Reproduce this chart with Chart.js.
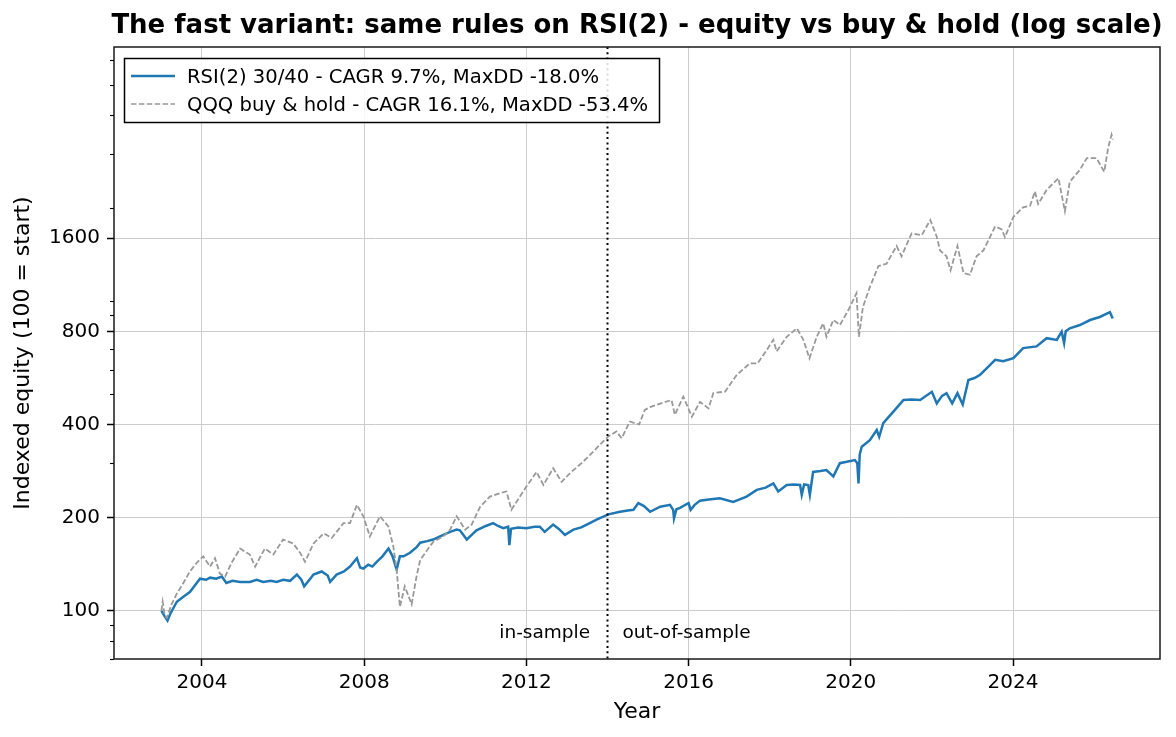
<!DOCTYPE html>
<html><head><meta charset="utf-8">
<script src="https://cdn.jsdelivr.net/npm/chart.js@4.4.1/dist/chart.umd.min.js"></script>
<style>html,body{margin:0;padding:0;background:#fff}canvas{display:block}</style>
</head><body>
<canvas id="c" width="1176" height="737"></canvas>
<script>
const chartTitle = "The fast variant: same rules on RSI(2) - equity vs buy & hold (log scale)";
const seriesLabels = ["RSI(2) 30/40 - CAGR 9.7%, MaxDD -18.0%", "QQQ buy & hold - CAGR 16.1%, MaxDD -53.4%"];
const xAxisTitle = "Year";
const yAxisTitle = "Indexed equity (100 = start)";
const xTicks = [2004, 2008, 2012, 2016, 2020, 2024];
const yTicks = [100, 200, 400, 800, 1600];
const yMinorTicks = [70, 80, 90, 300, 500, 600, 700, 900, 1000, 2000, 3000, 4000, 5000, 6000];
const splitYear = 2014.0;
const splitLabels = ["in-sample", "out-of-sample"];

const rsiYears = [2003.00,2003.08,2003.15,2003.22,2003.38,2003.54,2003.70,2003.87,2003.95,2004.10,2004.20,2004.35,2004.49,2004.60,2004.75,2004.94,2005.18,2005.35,2005.51,2005.70,2005.84,2006.00,2006.17,2006.34,2006.45,2006.52,2006.65,2006.75,2006.95,2007.10,2007.16,2007.32,2007.50,2007.65,2007.82,2007.90,2007.98,2008.10,2008.20,2008.31,2008.45,2008.60,2008.70,2008.80,2008.88,2008.97,2009.13,2009.30,2009.38,2009.55,2009.70,2009.95,2010.12,2010.28,2010.36,2010.53,2010.65,2010.77,2011.00,2011.18,2011.30,2011.43,2011.55,2011.58,2011.62,2011.80,2012.00,2012.20,2012.33,2012.45,2012.66,2012.80,2012.95,2013.16,2013.35,2013.49,2013.73,2014.02,2014.31,2014.50,2014.64,2014.76,2014.90,2015.05,2015.30,2015.54,2015.62,2015.64,2015.70,2015.79,2016.00,2016.05,2016.15,2016.28,2016.50,2016.77,2017.10,2017.43,2017.68,2017.90,2018.09,2018.21,2018.42,2018.60,2018.75,2018.79,2018.85,2018.95,2018.99,2019.07,2019.25,2019.40,2019.57,2019.73,2019.90,2020.10,2020.16,2020.19,2020.22,2020.27,2020.47,2020.64,2020.70,2020.80,2021.05,2021.30,2021.50,2021.71,2022.00,2022.12,2022.25,2022.36,2022.50,2022.63,2022.76,2022.90,2023.05,2023.19,2023.35,2023.56,2023.76,2024.01,2024.25,2024.58,2024.83,2025.08,2025.20,2025.26,2025.30,2025.40,2025.65,2025.90,2026.14,2026.39,2026.46];
const rsiValues = [100,96,93,98,107,111,115,123,127,126,128,127,129,123,125,124,124,126,124,125,124,126,125,131,126,120,126,131,134,130,124,131,134,139,148,138,137,141,139,144,150,159,150,136,150,150,154,161,166,168,170,176,180,183,182,170,176,182,188,192,188,185,187,163,184,186,185,187,187,180,190,184,176,183,186,190,197,205,209,211,212,223,218,209,217,220,212,199,213,215,223,212,220,227,229,231,225,234,246,250,258,243,255,256,255,237,256,255,237,281,283,285,272,300,303,307,300,258,320,339,356,384,365,404,440,480,482,480,510,468,495,505,468,505,464,557,565,579,607,647,640,655,706,715,760,750,798,733,800,818,838,870,890,922,880];

const qqqYears = [2003.00,2003.03,2003.08,2003.13,2003.25,2003.37,2003.54,2003.70,2003.87,2004.03,2004.20,2004.32,2004.44,2004.57,2004.73,2004.94,2005.18,2005.31,2005.55,2005.76,2006.00,2006.25,2006.42,2006.54,2006.75,2007.00,2007.20,2007.49,2007.65,2007.82,2007.98,2008.14,2008.39,2008.60,2008.72,2008.80,2008.88,2009.00,2009.17,2009.29,2009.38,2009.70,2009.95,2010.12,2010.28,2010.49,2010.65,2010.86,2011.10,2011.35,2011.51,2011.63,2011.84,2012.00,2012.25,2012.42,2012.66,2012.87,2013.08,2013.36,2013.57,2013.81,2014.02,2014.22,2014.35,2014.55,2014.78,2014.92,2015.05,2015.30,2015.58,2015.66,2015.87,2016.08,2016.28,2016.49,2016.61,2016.90,2017.19,2017.51,2017.70,2017.93,2018.09,2018.17,2018.42,2018.67,2018.83,2018.98,2019.16,2019.32,2019.40,2019.57,2019.73,2019.94,2020.14,2020.20,2020.30,2020.47,2020.68,2020.88,2021.13,2021.25,2021.50,2021.75,2021.96,2022.12,2022.20,2022.36,2022.46,2022.63,2022.78,2022.94,2023.10,2023.27,2023.56,2023.72,2023.80,2024.01,2024.25,2024.42,2024.54,2024.62,2024.83,2025.12,2025.28,2025.40,2025.65,2025.82,2026.06,2026.25,2026.35,2026.43,2026.46];
const qqqValues = [100,107,97,95,105,113,123,134,143,150,139,148,132,129,143,159,152,139,159,152,170,165,154,144,165,178,172,192,192,220,202,174,202,187,161,136,103,120,105,129,146,167,174,183,202,183,190,217,234,240,243,212,234,252,281,255,289,261,279,300,319,344,366,380,361,409,400,446,455,467,480,430,492,424,473,451,505,511,579,630,630,697,751,689,768,818,751,654,768,849,768,871,838,937,1062,768,960,1111,1300,1322,1509,1398,1657,1636,1831,1617,1460,1398,1260,1509,1233,1218,1398,1460,1745,1708,1612,1873,2012,2035,2262,2062,2290,2497,1954,2433,2660,2900,2900,2620,3150,3450,3330];

const FONT = '"DejaVu Sans", "Liberation Sans", sans-serif';
const BLUE = '#1f77b4';
const GRAY = '#999999';

function toPoints(xs, ys) { return xs.map((x, i) => ({x: x, y: ys[i]})); }

const overlay = {
  id: 'overlay',
  afterDatasetsDraw(chart) {
    const {ctx, chartArea: a, scales: {x, y}} = chart;
    ctx.save();
    // split line
    const sx = Math.round(x.getPixelForValue(splitYear)) + 0.5;
    ctx.strokeStyle = '#000'; ctx.lineWidth = 2; ctx.setLineDash([2, 3.3]);
    ctx.beginPath(); ctx.moveTo(sx, a.top); ctx.lineTo(sx, a.bottom); ctx.stroke();
    ctx.setLineDash([]);
    // split labels
    ctx.fillStyle = '#000';
    ctx.font = '18.5px ' + FONT;
    ctx.textBaseline = 'alphabetic';
    const ty = y.getPixelForValue(86) + 7;
    ctx.textAlign = 'right'; ctx.fillText(splitLabels[0], x.getPixelForValue(splitYear - 0.43), ty);
    ctx.textAlign = 'left'; ctx.fillText(splitLabels[1], x.getPixelForValue(splitYear + 0.37), ty);
    // minor ticks
    ctx.strokeStyle = '#000'; ctx.lineWidth = 1.1;
    yMinorTicks.forEach(v => {
      const py = Math.round(y.getPixelForValue(v)) + 0.5;
      ctx.beginPath(); ctx.moveTo(a.left - 4, py); ctx.lineTo(a.left, py); ctx.stroke();
    });
    // spines
    ctx.strokeStyle = '#1a1a1a'; ctx.lineWidth = 1.5;
    ctx.strokeRect(a.left, a.top, a.right - a.left, a.bottom - a.top);
    // legend
    const lx = a.left + 10, ly = a.top + 11, lw = 535, lh = 64;
    ctx.fillStyle = 'rgba(255,255,255,0.85)';
    ctx.fillRect(lx, ly, lw, lh);
    ctx.strokeStyle = '#000'; ctx.lineWidth = 1.5;
    ctx.strokeRect(lx + 0.5, ly + 0.5, lw, lh);
    const rows = [ly + 18, ly + 46];
    ctx.lineWidth = 2.4; ctx.strokeStyle = BLUE;
    ctx.beginPath(); ctx.moveTo(lx + 7, rows[0]); ctx.lineTo(lx + 51, rows[0]); ctx.stroke();
    ctx.lineWidth = 1.7; ctx.strokeStyle = GRAY; ctx.setLineDash([5.5, 2.4]);
    ctx.beginPath(); ctx.moveTo(lx + 7, rows[1]); ctx.lineTo(lx + 51, rows[1]); ctx.stroke();
    ctx.setLineDash([]);
    ctx.fillStyle = '#000'; ctx.font = '19.6px ' + FONT; ctx.textAlign = 'left'; ctx.textBaseline = 'alphabetic';
    ctx.fillText(seriesLabels[0], lx + 63, rows[0] + 7);
    ctx.fillText(seriesLabels[1], lx + 63, rows[1] + 7);
    // title
    ctx.font = 'bold 26px ' + FONT; ctx.textAlign = 'center'; ctx.textBaseline = 'alphabetic';
    ctx.fillText(chartTitle, (a.left + a.right) / 2, 33);
    ctx.restore();
  }
};

new Chart(document.getElementById('c'), {
  type: 'line',
  data: {
    datasets: [
      {label: seriesLabels[1], data: toPoints(qqqYears, qqqValues), borderColor: GRAY, borderWidth: 1.8, borderDash: [5.5, 2.4], pointRadius: 0, tension: 0, fill: false},
      {label: seriesLabels[0], data: toPoints(rsiYears, rsiValues), borderColor: BLUE, borderWidth: 2.5, pointRadius: 0, tension: 0, fill: false}
    ]
  },
  options: {
    responsive: false,
    animation: false,
    devicePixelRatio: 1,
    parsing: false,
    layout: {padding: {left: 0, top: 47, right: 16, bottom: 0}},
    plugins: {legend: {display: false}, title: {display: false}, tooltip: {enabled: false}},
    scales: {
      x: {
        type: 'linear', min: 2001.83, max: 2027.625,
        afterBuildTicks: s => { s.ticks = xTicks.map(v => ({value: v})); },
        afterFit: s => { s.height = 78; },
        ticks: {callback: v => String(v), color: '#000', font: {family: FONT, size: 20}, padding: 5, maxRotation: 0, autoSkip: false},
        grid: {color: '#cccccc', lineWidth: 1, tickLength: 7, tickColor: '#000', tickWidth: 1.5},
        border: {display: false},
        title: {display: true, text: xAxisTitle, color: '#000', font: {family: FONT, size: 22}, padding: {top: 0, bottom: 12}}
      },
      y: {
        type: 'logarithmic', min: 69.9, max: 6630,
        afterBuildTicks: s => { s.ticks = yTicks.map(v => ({value: v})); },
        afterFit: s => { s.width = 114; },
        ticks: {callback: v => String(v), color: '#000', font: {family: FONT, size: 20}, padding: 7, autoSkip: false},
        grid: {color: '#cccccc', lineWidth: 1, tickLength: 7, tickColor: '#000', tickWidth: 1.5},
        border: {display: false},
        title: {display: true, text: yAxisTitle, color: '#000', font: {family: FONT, size: 22}, padding: {top: 10, bottom: 0}}
      }
    }
  },
  plugins: [overlay]
});
</script>
</body></html>
